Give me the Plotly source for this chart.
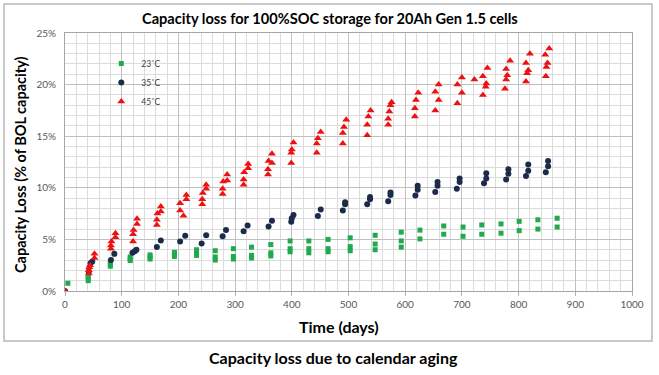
import plotly.graph_objects as go

# ---- data (days, % capacity loss) ----
g_days = [5, 41, 41, 41, 80, 80, 80, 115, 115, 115, 150, 150, 150, 193, 193, 193,
          232, 232, 232, 265, 265, 265, 297, 297, 297, 329, 329, 329, 363, 363, 363,
          397, 397, 397, 430, 430, 430, 464, 464, 464, 503, 503, 503, 547, 547, 547,
          593, 593, 593, 626, 626, 668, 668, 702, 702, 735, 735, 769, 769, 801, 801,
          834, 834, 868, 868]
g_loss = [0.75, 1.0, 1.2, 1.45, 2.4, 2.6, 2.8, 2.95, 3.1, 3.3, 3.1, 3.3, 3.5, 3.35, 3.55, 3.75,
          3.45, 3.7, 4.0, 3.0, 3.3, 3.9, 3.1, 3.35, 4.1, 3.2, 3.45, 4.25, 3.4, 3.7, 4.5,
          3.8, 4.1, 4.85, 3.7, 4.1, 4.85, 3.8, 4.1, 5.0, 3.9, 4.3, 5.15, 4.0, 4.55, 5.4,
          4.25, 4.85, 5.7, 5.05, 5.9, 5.5, 6.3, 5.3, 6.2, 5.5, 6.4, 5.6, 6.5, 5.85, 6.75,
          6.0, 6.9, 6.2, 7.05]

n_days = [0, 42, 45, 48, 81, 87, 119, 123, 126, 162, 169, 203, 212, 241, 249, 278, 284,
          315, 322, 359, 365, 399, 400, 403, 446, 451, 490, 494, 494, 533, 538, 538,
          570, 574, 574, 618, 622, 622, 653, 657, 657, 691, 696, 696, 739, 743, 743,
          778, 782, 782, 813, 817, 817, 848, 852, 852]
n_loss = [0, 1.9, 2.7, 2.85, 3.0, 3.6, 3.7, 3.85, 4.0, 4.26, 4.9, 4.8, 5.36, 4.6, 5.4, 5.3, 5.9,
          5.8, 6.35, 6.25, 6.8, 6.7, 7.05, 7.36, 7.26, 7.9, 7.8, 8.4, 8.6, 8.4, 8.9, 9.1,
          8.7, 9.3, 9.55, 9.25, 9.8, 10.2, 9.6, 10.2, 10.55, 9.9, 10.55, 10.9, 10.45, 10.9, 11.4,
          10.8, 11.35, 11.8, 11.15, 11.65, 12.25, 11.5, 12.1, 12.6]

r_days = [0, 42, 42, 43, 44, 52, 52, 81, 81, 82, 89, 89, 120, 120, 121, 127, 127,
          162, 162, 163, 169, 169, 203, 203, 209, 214, 214, 242, 242, 243, 249, 249,
          278, 278, 279, 286, 286, 315, 315, 316, 323, 323, 358, 358, 359, 365, 365,
          399, 399, 400, 403, 444, 444, 446, 451, 490, 490, 492, 496, 533, 533, 535, 539,
          570, 570, 572, 574, 576, 617, 617, 619, 623, 653, 653, 659, 659, 692, 692, 700, 700,
          722, 737, 737, 742, 743, 745, 776, 778, 780, 778, 785, 813, 815, 817, 813, 820,
          848, 849, 851, 847, 854]
r_loss = [0, 1.7, 2.0, 2.3, 2.5, 3.2, 3.6, 4.1, 4.4, 4.8, 5.2, 5.6, 4.8, 5.5, 5.9, 6.5, 7.0,
          6.4, 6.9, 7.5, 7.7, 8.2, 7.8, 8.5, 7.3, 8.9, 9.3, 8.4, 8.9, 9.5, 9.9, 10.3,
          9.4, 9.9, 10.6, 10.7, 11.3, 10.3, 10.8, 11.5, 11.9, 12.3, 11.3, 11.8, 12.6, 12.4, 13.3,
          12.4, 13.4, 13.7, 14.4, 13.4, 14.3, 14.8, 15.4, 14.3, 15.3, 15.9, 16.6, 15.1, 16.1, 16.9, 17.5,
          16.1, 16.7, 17.4, 18.0, 18.3, 16.9, 17.7, 18.5, 19.2, 17.5, 19.3, 18.5, 20.0, 18.2, 20.0, 19.2, 20.7,
          20.5, 19.0, 20.8, 19.8, 20.1, 21.6, 19.6, 20.5, 20.9, 21.5, 22.3, 20.3, 21.1, 21.4, 22.1, 23.0,
          20.8, 21.7, 22.1, 22.9, 23.5]

series_names = ["23˚C", "35˚C", "45˚C"]
x_ticks = [0, 100, 200, 300, 400, 500, 600, 700, 800, 900, 1000]
y_ticks = [0, 5, 10, 15, 20, 25]
y_tick_text = ["0%", "5%", "10%", "15%", "20%", "25%"]

GREEN = "#1faa4e"
NAVY = "#1c2b4a"
RED = "#ee1111"

fig = go.Figure()
fig.add_trace(go.Scatter(x=g_days, y=g_loss, mode="markers", name=series_names[0],
                         marker=dict(symbol="square", size=5, color=GREEN)))
fig.add_trace(go.Scatter(x=n_days, y=n_loss, mode="markers", name=series_names[1],
                         marker=dict(symbol="circle", size=6, color=NAVY)))
fig.add_trace(go.Scatter(x=r_days, y=r_loss, mode="markers", name=series_names[2],
                         marker=dict(symbol="triangle-up", size=7, color=RED)))

FONT = "Lato"
TICK = "#595959"

fig.update_layout(
    width=659, height=375,
    margin=dict(l=65, r=27, t=33, b=84),
    paper_bgcolor="white", plot_bgcolor="white",
    showlegend=True,
    legend=dict(x=0.064, y=0.938, xanchor="left", yanchor="top",
                bgcolor="rgba(255,255,255,0)", font=dict(family=FONT, size=8.5, color="#404040"),
                itemwidth=30, tracegroupgap=0),
    xaxis=dict(range=[0, 1000], tickvals=x_ticks, showgrid=True, gridcolor="#c0c0c0", gridwidth=1,
               minor=dict(dtick=20, showgrid=True, gridcolor="#dcdcdc", gridwidth=1),
               ticks="outside", ticklen=4, tickcolor="#b0b0b0",
               showline=True, linecolor="#a6a6a6", mirror=True, zeroline=False,
               tickfont=dict(family=FONT, size=10, color=TICK)),
    yaxis=dict(range=[0, 25], tickvals=y_ticks, ticktext=y_tick_text, showgrid=True,
               gridcolor="#c0c0c0", gridwidth=1,
               minor=dict(dtick=1, showgrid=True, gridcolor="#dcdcdc", gridwidth=1),
               showline=True, linecolor="#a6a6a6", mirror=True, zeroline=False,
               ticks="", ticklabelstandoff=6,
               tickfont=dict(family=FONT, size=10, color=TICK)),
    shapes=[dict(type="rect", xref="paper", yref="paper",
                 x0=(4 - 65) / 567, x1=(652 - 65) / 567,
                 y0=(291 - 341) / 258, y1=(291 - 4) / 258,
                 line=dict(color="#b8b8b8", width=1.5), fillcolor="rgba(0,0,0,0)", layer="below")],
    annotations=[
        dict(text="<b>Capacity loss for 100%SOC storage for 20Ah Gen 1.5 cells</b>",
             xref="paper", yref="paper", x=(330 - 65) / 567, y=(291 - 19) / 258,
             xanchor="center", yanchor="middle", showarrow=False,
             font=dict(family=FONT, size=14.6, color="#000000")),
        dict(text="<b>Time (days)</b>", xref="paper", yref="paper",
             x=(339 - 65) / 567, y=(291 - 326) / 258, xanchor="center", yanchor="middle",
             showarrow=False, font=dict(family=FONT, size=16, color="#000000")),
        dict(text="<b>Capacity Loss (% of BOL capacity)</b>", xref="paper", yref="paper",
             x=(20 - 65) / 567, y=(291 - 165) / 258, xanchor="center", yanchor="middle",
             textangle=-90, showarrow=False, font=dict(family=FONT, size=14.5, color="#000000")),
        dict(text="<b>Capacity loss due to calendar aging</b>", xref="paper", yref="paper",
             x=(333 - 65) / 567, y=(291 - 357) / 258, xanchor="center", yanchor="middle",
             showarrow=False, font=dict(family=FONT, size=16, color="#000000")),
    ],
)

fig.write_html("out.html", config={"displayModeBar": False},
               post_script="document.body.style.margin='0';")
